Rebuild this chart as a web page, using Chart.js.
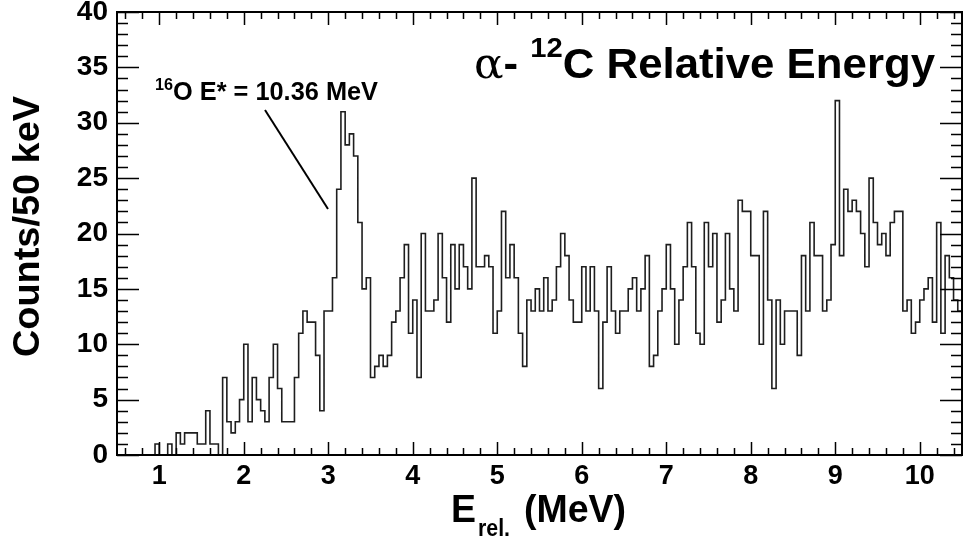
<!DOCTYPE html>
<html>
<head>
<meta charset="utf-8">
<script src="https://cdn.jsdelivr.net/npm/chart.js@4.4.1/dist/chart.umd.min.js"></script>
<style>
  html, body { margin: 0; padding: 0; background: #fff; }
</style>
</head>
<body>
<canvas id="chartErel" width="964" height="543"></canvas>
<script>
// alpha - 12C relative energy, 50 keV bins from 0.5 to 10.5 MeV
var binStart = 0.5;
var binWidth = 0.05;
var counts = [
    0, 0, 0, 0, 0, 0, 0, 0, 0, 1,     // 0.50 - 0.95
    0, 0, 1, 0, 2, 1, 2, 2, 2, 1,     // 1.00 - 1.45
    1, 4, 1, 1, 0, 7, 3, 2, 3, 5,     // 1.50 - 1.95
    10, 3, 7, 5, 4, 3, 7, 10, 6, 3,   // 2.00 - 2.45
    3, 3, 7, 11, 13, 12, 12, 9, 4, 13, // 2.50 - 2.95
    13, 16, 24, 31, 28, 29, 27, 21, 15, 16, // 3.00 - 3.45
    7, 8, 9, 8, 9, 12, 13, 16, 19, 11, // 3.50 - 3.95
    14, 7, 20, 13, 13, 14, 20, 16, 12, 19, // 4.00 - 4.45
    15, 19, 17, 15, 25, 17, 17, 18, 17, 11, // 4.50 - 4.95
    13, 22, 16, 19, 16, 11, 8, 14, 13, 15, // 5.00 - 5.45
    13, 16, 13, 14, 17, 20, 18, 14, 12, 12, // 5.50 - 5.95
    17, 13, 17, 13, 6, 12, 17, 13, 11, 13, // 6.00 - 6.45
    13, 15, 16, 13, 15, 18, 8, 9, 13, 15, // 6.50 - 6.95
    19, 15, 10, 14, 17, 21, 17, 11, 10, 21, // 7.00 - 7.45
    17, 20, 12, 14, 20, 15, 13, 23, 22, 22, // 7.50 - 7.95
    18, 18, 10, 22, 14, 6, 14, 10, 13, 13, // 8.00 - 8.45
    13, 9, 18, 13, 21, 18, 18, 13, 14, 19, // 8.50 - 8.95
    32, 18, 24, 22, 23, 22, 20, 17, 25, 21, // 9.00 - 9.45
    19, 20, 18, 21, 22, 22, 13, 14, 11, 12, // 9.50 - 9.95
    14, 15, 16, 12, 21, 11, 18, 16, 14, 13  // 10.00 - 10.45
];
var xTickLabels = [1, 2, 3, 4, 5, 6, 7, 8, 9, 10];
var yTickLabels = [0, 5, 10, 15, 20, 25, 30, 35, 40];
var xMin = 0.5, xMax = 10.5, yMin = 0, yMax = 40;

var points = counts.map(function (c, i) {
    return { x: binStart + i * binWidth, y: c };
});
points.push({ x: binStart + counts.length * binWidth, y: counts[counts.length - 1] });

var BOLD = 'bold {s}px "Liberation Sans", Arial, Helvetica, sans-serif';
function bold(s) { return BOLD.replace('{s}', s); }

// draws a run of text pieces fitted to a given width
function drawRun(ctx, parts, x, y, width) {
    var natural = 0;
    parts.forEach(function (p) { ctx.font = p.font; natural += ctx.measureText(p.text).width; });
    var k = width ? width / natural : 1;
    ctx.save();
    ctx.translate(x, y);
    ctx.scale(k, 1);
    var cx = 0;
    parts.forEach(function (p) {
        ctx.font = p.font;
        ctx.fillText(p.text, cx, p.dy || 0);
        cx += ctx.measureText(p.text).width;
    });
    ctx.restore();
}

var frameTicks = {
    id: 'frameTicks',
    afterDraw: function (chart) {
        var ctx = chart.ctx, a = chart.chartArea;
        var sx = chart.scales.x, sy = chart.scales.y;
        ctx.save();
        ctx.strokeStyle = '#000';
        ctx.lineWidth = 1.5;
        ctx.beginPath();
        var v, px, len;
        // x ticks every 0.2 MeV, bottom and top
        for (var i = 3; i <= 52; i++) {
            v = i * 0.2;
            px = Math.round(sx.getPixelForValue(v)) + 0.5;
            len = (i % 5 === 0) ? 13 : 7;
            ctx.moveTo(px, a.bottom); ctx.lineTo(px, a.bottom - len);
            ctx.moveTo(px, a.top); ctx.lineTo(px, a.top + len);
        }
        // y ticks every 1 count, left and right
        for (var j = yMin; j <= yMax; j++) {
            px = Math.round(sy.getPixelForValue(j)) + 0.5;
            len = (j % 5 === 0) ? 22 : 11;
            ctx.moveTo(a.left, px); ctx.lineTo(a.left + len, px);
            ctx.moveTo(a.right, px); ctx.lineTo(a.right - len, px);
        }
        ctx.stroke();
        ctx.lineWidth = 2;
        ctx.strokeRect(a.left, a.top, a.right - a.left, a.bottom - a.top);

        ctx.fillStyle = '#000';
        ctx.textBaseline = 'alphabetic';
        ctx.textAlign = 'left';

        // title
        drawRun(ctx, [
            { text: '\u03b1', font: '42px "DejaVu Serif", serif' },
            { text: '- ', font: bold(42) },
            { text: '12', font: bold(28), dy: -21 },
            { text: 'C Relative Energy', font: bold(42) }
        ], 474, 78, 461);

        // peak label and pointer
        drawRun(ctx, [
            { text: '16', font: bold(16), dy: -10 },
            { text: 'O E* = 10.36 MeV', font: bold(25) }
        ], 155, 100, 223);
        ctx.lineWidth = 2;
        ctx.beginPath();
        ctx.moveTo(265, 110);
        ctx.lineTo(328, 209);
        ctx.stroke();

        // x axis title
        drawRun(ctx, [{ text: 'E', font: bold(38) }], 451, 522, 25);
        drawRun(ctx, [{ text: 'rel.', font: bold(23) }], 478, 536, 32);
        drawRun(ctx, [{ text: '(MeV)', font: bold(38) }], 524, 522, 102);

        // y axis title
        ctx.save();
        ctx.translate(39, 357);
        ctx.rotate(-Math.PI / 2);
        drawRun(ctx, [{ text: 'Counts/50 keV', font: bold(37) }], 0, 0, 261);
        ctx.restore();
        ctx.restore();
    }
};

new Chart(document.getElementById('chartErel'), {
    type: 'line',
    data: {
        datasets: [{
            data: points,
            stepped: 'before',
            borderColor: '#1e1e1e',
            borderWidth: 1.6,
            pointRadius: 0,
            fill: false
        }]
    },
    options: {
        responsive: false,
        animation: false,
        devicePixelRatio: 1,
        layout: { padding: { top: 12, right: 2, left: 0, bottom: 0 } },
        plugins: { legend: { display: false }, tooltip: { enabled: false } },
        scales: {
            x: {
                type: 'linear', min: xMin, max: xMax,
                afterBuildTicks: function (s) { s.ticks = xTickLabels.map(function (v) { return { value: v }; }); },
                afterFit: function (s) { s.height = 88; s.paddingLeft = 0; s.paddingRight = 0; },
                grid: { display: false, drawTicks: false },
                border: { display: false },
                ticks: { color: '#000', padding: 5, maxRotation: 0, autoSkip: false,
                         font: { family: '"Liberation Sans", Arial', size: 27, weight: 'bold' } }
            },
            y: {
                min: yMin, max: yMax,
                afterBuildTicks: function (s) { s.ticks = yTickLabels.map(function (v) { return { value: v }; }); },
                afterFit: function (s) { s.width = 117; s.paddingTop = 0; s.paddingBottom = 0; },
                grid: { display: false, drawTicks: false },
                border: { display: false },
                ticks: { color: '#000', padding: 9,
                         font: { family: '"Liberation Sans", Arial', size: 28, weight: 'bold' } }
            }
        }
    },
    plugins: [frameTicks]
});
</script>
</body>
</html>
